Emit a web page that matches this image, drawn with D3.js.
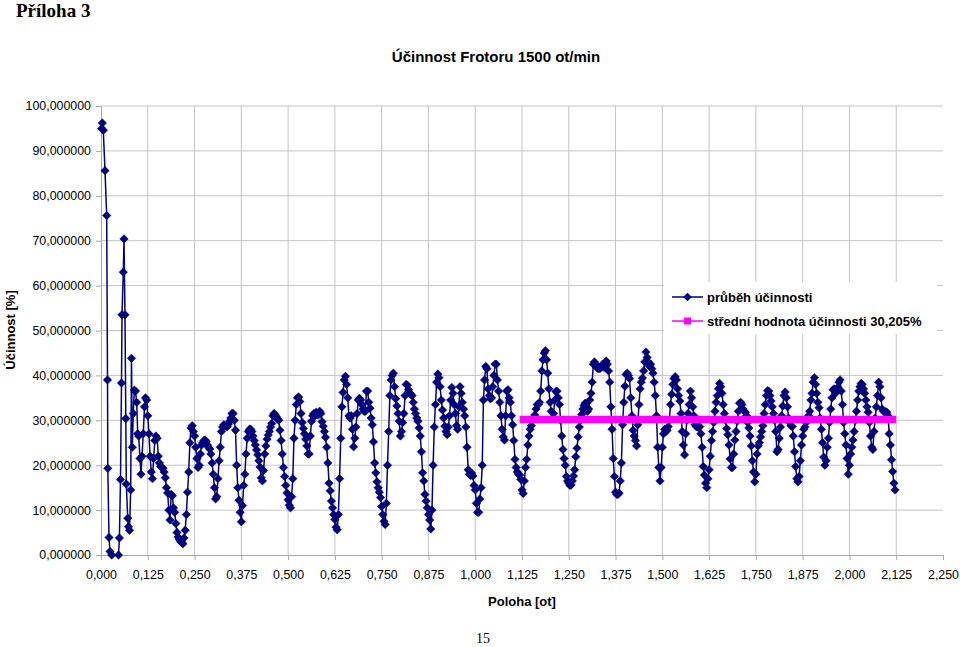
<!DOCTYPE html>
<html lang="cs">
<head>
<meta charset="UTF-8">
<title>Účinnost Frotoru 1500 ot/min</title>
<script src="https://d3js.org/d3.v7.min.js"></script>
<style>
  body { margin: 0; background: #fff; }
  text { font-family: "Liberation Sans", Arial, sans-serif; fill: #000; }
</style>
</head>
<body>
<script>
// rozběh (první osmina otáčky) - body nejsou rovnoměrně rozložené
const startPoloha = [0.0019, 0.0035, 0.0061, 0.0107, 0.0152, 0.0174, 0.0182, 0.0214, 0.0241, 0.0286,
  0.0468, 0.0492, 0.0521, 0.0548, 0.0561, 0.0596, 0.0615, 0.0641, 0.0663, 0.0676,
  0.0714, 0.0735, 0.0762, 0.0794, 0.0815, 0.0836, 0.0863, 0.0890, 0.0922, 0.0954,
  0.0981, 0.1007, 0.1042, 0.1069, 0.1096, 0.1130, 0.1162, 0.1189, 0.1221, 0.1250];
const startUcinnost = [95.0, 96.2, 94.6, 85.6, 75.6, 39.0, 19.3, 3.9, 0.8, 0.0,
  0.0, 3.8, 16.8, 38.3, 53.5, 63.0, 70.4, 53.5, 30.4, 15.8,
  8.2, 6.3, 5.5, 14.5, 43.8, 24.0, 31.5, 36.7, 36.5, 34.0,
  27.0, 26.5, 21.5, 18.0, 22.0, 27.0, 33.0, 35.0, 34.5, 31.0];

// dál po kroku 1/320 ot, od 0,128125 do 2,121875
const krok = 1 / 320;
const prvniIndex = 41;
const ucinnost = [
  27, 22, 18.5, 17, 21.5, 25.5, 26.5, 26, 22, 20.5,
  19.7, 19.5, 19.3, 18.5, 17.2, 15, 13.8, 10, 7.8, 13.5,
  13.2, 10.5, 9.5, 7, 5, 4, 3.5, 3, 2.8, 2.5,
  3.8, 5.5, 9, 14, 18.5, 25, 28.3, 28.8, 27.5, 26.5,
  24, 21.5, 19.5, 20, 22.5, 24.5, 25, 25.5, 25.6, 25.3,
  24.5, 24, 23.6, 22.5, 20.5, 18, 15, 12.5, 13, 17,
  21, 24, 27.5, 28.5, 29, 28.8, 28.6, 28.6, 29.2, 29.8,
  30.5, 31.5, 31.5, 30, 27.8, 20, 15, 12.2, 9.5, 7.4,
  11, 15.5, 18, 22.5, 26, 27.5, 28, 28, 27.5, 26.5,
  25.5, 24.5, 23.4, 22.3, 21, 19.6, 17.2, 16.5, 18.8, 22.5,
  24.3, 25.8, 26.7, 27.5, 28.5, 29.3, 31, 31.5, 31.2, 30.8,
  30.3, 30, 27.8, 25.5, 22.5, 19.5, 17.5, 15.5, 13.8, 12.3,
  11.1, 10.5, 13, 17, 26, 30, 33.5, 35, 35.2, 34.2,
  31.5, 29.5, 28.2, 27, 25.8, 24.3, 22.5, 22.5, 26.5, 29.8,
  31, 31.5, 31, 31.8, 31.3, 31.2, 32, 31.5, 29.7, 28.7,
  27.5, 26.2, 24, 20.5, 16, 14.3, 12, 10.5, 9, 7.9,
  6.2, 5.6, 9, 17, 26, 33, 36.2, 39, 39.8, 38,
  35, 31, 30.5, 31, 28, 24.1, 26, 28.5, 31.5, 34.5,
  34.9, 34.5, 33.5, 32.5, 32, 32, 36.5, 36.5, 34, 32.7,
  30.5, 29, 25.2, 20.5, 18.3, 16.3, 15, 14, 12.8, 10.8,
  9, 7.5, 6.8, 11.5, 20, 27.5, 35.5, 39, 40, 40.5,
  37.5, 34.8, 33.2, 31.5, 29.8, 26.5, 27.5, 29.5, 31.5, 35.5,
  38, 37.8, 36.8, 36, 35.8, 35.5, 34, 32.5, 31.5, 30.5,
  29.8, 28.3, 26.5, 23, 18.3, 16.5, 13.5, 12, 10.5, 9,
  7.8, 5.8, 10, 20, 28.5, 33.5, 38.5, 40.3, 39.5, 37.5,
  34.5, 32.3, 30.5, 28.7, 27.5, 26.8, 28.5, 31, 34.5, 37.3,
  36, 33.5, 31.5, 28.8, 28, 33, 37.5, 36, 34, 32.5,
  31, 28.5, 24, 19, 18, 17.7, 18.2, 17.6, 15.5, 14.5,
  11.5, 9.5, 9.5, 12.5, 15, 20, 34.5, 39, 42, 41.5,
  37, 35.5, 34.8, 35, 37.5, 40, 42.5, 42.5, 39, 36.5,
  34, 31, 28, 26.3, 25.6, 31, 36.5, 36.8, 35, 34,
  31, 29, 25.5, 21.3, 19.5, 18.5, 18, 17.8, 16.8, 14.5,
  13.7, 16.5, 19.5, 21.3, 24.5, 26.5, 28, 28.8, 30, 30.6,
  31.2, 32.5, 33.5, 33.5, 34, 36.5, 41, 43.5, 45, 45.5,
  43.5, 40.5, 37, 34, 32, 30.5, 31.5, 34.5, 36.4, 36.5,
  35, 33.5, 30, 26.5, 23.5, 21.5, 20, 17.5, 16.5, 16,
  15.5, 15.6, 16.5, 17.6, 19, 21.9, 23.8, 26.3, 28.5, 30,
  31.3, 32.5, 33.3, 33.8, 33, 32, 32.5, 34.5, 36, 38.5,
  42.5, 43, 42.5, 41.8, 41.5, 41.5, 41.6, 42, 42.5, 41.8,
  42, 43.2, 42.5, 41, 38.5, 33, 28, 21.5, 17.5, 14,
  13.5, 13.5, 13.8, 16.5, 20.5, 29, 34, 37.6, 40.2, 40.5,
  40, 39.3, 35, 31, 27.8, 26.5, 25.5, 24.3, 29, 33.5,
  37, 38.5, 39.4, 41, 43, 45.2, 44, 43, 42, 42.5,
  41.5, 40.5, 38.5, 35.5, 31, 24, 19.5, 16.5, 19.5, 24,
  27, 28, 27.5, 27.8, 28.6, 30, 33.5, 35.8, 38, 39.3,
  39.7, 39, 37, 35.5, 34.3, 31.5, 27.5, 24.5, 22.3, 27,
  30, 31.5, 33.5, 36.5, 35, 33, 31, 29, 28.6, 28.5,
  28.4, 28.6, 27, 24, 19.7, 17.8, 16, 15, 17, 19,
  22, 25.5, 27.5, 29.5, 32, 34, 35.5, 37, 38.2, 37.5,
  36, 33.5, 31.5, 30, 28.2, 26.8, 24.5, 21.4, 19.5, 19.5,
  22.5, 25.6, 27.5, 29.8, 32, 33.8, 34, 33.5, 32.5, 32,
  31.8, 31, 29.5, 28.3, 26.5, 24.3, 21, 18.5, 16.3, 18,
  22.5, 24.3, 25, 26.3, 27.5, 28.8, 31.5, 33.5, 35.5, 36.6,
  36.5, 35.5, 34.3, 33, 31.5, 30, 27.5, 23, 23.5, 26,
  28.5, 31, 33.2, 35.5, 36.3, 35, 33, 30.5, 29.5, 28.8,
  28.6, 26.5, 23, 19.7, 17, 16.3, 17.5, 21, 24.5, 26.5,
  28, 28.5, 29.5, 30, 31, 32, 34.5, 36, 38.5, 39.5,
  38, 36, 34, 32.8, 30.5, 28, 25, 21.8, 20, 21,
  24, 26, 29.5, 32.5, 35, 36.8, 37, 36, 36.5, 37.3,
  38.5, 39, 36.5, 33.5, 29.5, 27, 24.5, 21.5, 18, 20,
  22.5, 24, 25.6, 27.5, 30, 32, 34.5, 36.5, 37.5, 38.2,
  38, 37, 36, 34.5, 33, 31.8, 29.5, 26.5, 24, 23.5,
  27.5, 30.5, 33, 35.5, 38.5, 37.5, 35, 32.5, 32, 31.9,
  31.9, 31.8, 31, 27, 24.5, 21.2, 18.6, 16, 14.5
];

const stredniHodnota = 30.205;
const stredniOd = 1.11875;
const stredniDo = 2.125;

const xTicks = [0, 0.125, 0.25, 0.375, 0.5, 0.625, 0.75, 0.875, 1, 1.125, 1.25,
  1.375, 1.5, 1.625, 1.75, 1.875, 2, 2.125, 2.25];
const yTicks = [0, 10, 20, 30, 40, 50, 60, 70, 80, 90, 100];

const legendaPopisky = ["průběh účinnosti", "střední hodnota účinnosti 30,205%"];

const width = 960;
const height = 647;

const cz = d3.formatLocale({ decimal: ",", thousands: " ", grouping: [3], currency: ["", ""] });

const x = d3.scaleLinear().domain([0, 2.25]).range([101, 943]);
const y = d3.scaleLinear().domain([0, 100]).range([555, 106]);

const svg = d3.select("body").append("svg")
  .attr("width", width)
  .attr("height", height);

// body řady
const data = startPoloha.map((p, i) => ({ x: p, y: startUcinnost[i] }))
  .concat(ucinnost.map((v, i) => ({ x: (i + prvniIndex) * krok, y: v })));

// mřížka
svg.append("g")
  .selectAll("line")
  .data(yTicks.filter(d => d > 0))
  .join("line")
  .attr("x1", x(0)).attr("x2", x(2.25))
  .attr("y1", d => y(d)).attr("y2", d => y(d))
  .attr("stroke", "#c4c4c4");

svg.append("g")
  .selectAll("line")
  .data(xTicks.filter(d => d > 0 && d < 2.25))
  .join("line")
  .attr("x1", d => x(d)).attr("x2", d => x(d))
  .attr("y1", y(0)).attr("y2", y(100))
  .attr("stroke", "#c4c4c4");

// osy
const xAxis = svg.append("g")
  .attr("transform", `translate(0,${y(0)})`)
  .call(d3.axisBottom(x).tickValues(xTicks).tickFormat(cz.format(".3f"))
    .tickSizeInner(5).tickSizeOuter(0).tickPadding(10));

const yAxis = svg.append("g")
  .attr("transform", `translate(${x(0)},0)`)
  .call(d3.axisLeft(y).tickValues(yTicks).tickFormat(cz.format(".6f"))
    .tickSizeInner(5).tickSizeOuter(0).tickPadding(5));

[xAxis, yAxis].forEach(g => {
  g.select(".domain").attr("stroke", "#a8a8a8");
  g.selectAll(".tick line").attr("stroke", "#a8a8a8");
  g.selectAll(".tick text")
    .attr("fill", "#000")
    .style("font-size", "12.4px")
    .style("font-family", "'Liberation Sans', Arial, sans-serif");
});

// křivka účinnosti
const line = d3.line().x(d => x(d.x)).y(d => y(d.y));
const kosoctverec = "M0,-4.2L4.2,0L0,4.2L-4.2,0Z";

svg.append("path")
  .datum(data)
  .attr("d", line)
  .attr("fill", "none")
  .attr("stroke", "#000080")
  .attr("stroke-width", 1.5);

svg.append("g")
  .selectAll("path")
  .data(data)
  .join("path")
  .attr("transform", d => `translate(${x(d.x)},${y(d.y)})`)
  .attr("d", kosoctverec)
  .attr("fill", "#000080")
  .attr("stroke", "#000080")
  .attr("stroke-width", 0.6);

// střední hodnota
svg.append("line")
  .attr("x1", x(stredniOd)).attr("x2", x(stredniDo))
  .attr("y1", y(stredniHodnota)).attr("y2", y(stredniHodnota))
  .attr("stroke", "#ff00ff")
  .attr("stroke-width", 7.5);

// legenda
const leg = svg.append("g").attr("transform", "translate(664,282)");
leg.append("rect")
  .attr("width", 273).attr("height", 52)
  .attr("fill", "#fff");

const legRada = leg.selectAll("g.rada")
  .data(legendaPopisky)
  .join("g")
  .attr("class", "rada")
  .attr("transform", (d, i) => `translate(0,${15 + i * 24})`);

legRada.append("line")
  .attr("x1", 8).attr("x2", 39)
  .attr("stroke", (d, i) => i === 0 ? "#000080" : "#ff00ff")
  .attr("stroke-width", 1.5);

legRada.append("path")
  .attr("transform", "translate(23.5,0)")
  .attr("d", (d, i) => i === 0 ? kosoctverec : "M-3.5,-3.5H3.5V3.5H-3.5Z")
  .attr("fill", (d, i) => i === 0 ? "#000080" : "#ff00ff");

legRada.append("text")
  .attr("x", 43)
  .attr("dy", "0.35em")
  .style("font-size", "13px")
  .style("font-weight", "bold")
  .text(d => d);

// popisky
svg.append("text")
  .attr("x", 16).attr("y", 17)
  .style("font-family", "'Liberation Serif', 'Times New Roman', serif")
  .style("font-size", "19px")
  .style("font-weight", "bold")
  .text("Příloha 3");

svg.append("text")
  .attr("x", 496).attr("y", 62)
  .attr("text-anchor", "middle")
  .style("font-size", "15px")
  .style("font-weight", "bold")
  .text("Účinnost Frotoru 1500 ot/min");

svg.append("text")
  .attr("x", 522).attr("y", 606)
  .attr("text-anchor", "middle")
  .style("font-size", "13px")
  .style("font-weight", "bold")
  .text("Poloha [ot]");

svg.append("text")
  .attr("transform", "translate(15,330) rotate(-90)")
  .attr("text-anchor", "middle")
  .style("font-size", "13px")
  .style("font-weight", "bold")
  .text("Účinnost [%]");

svg.append("text")
  .attr("x", 483).attr("y", 643)
  .attr("text-anchor", "middle")
  .style("font-family", "'Liberation Serif', 'Times New Roman', serif")
  .style("font-size", "14px")
  .text("15");
</script>
</body>
</html>
